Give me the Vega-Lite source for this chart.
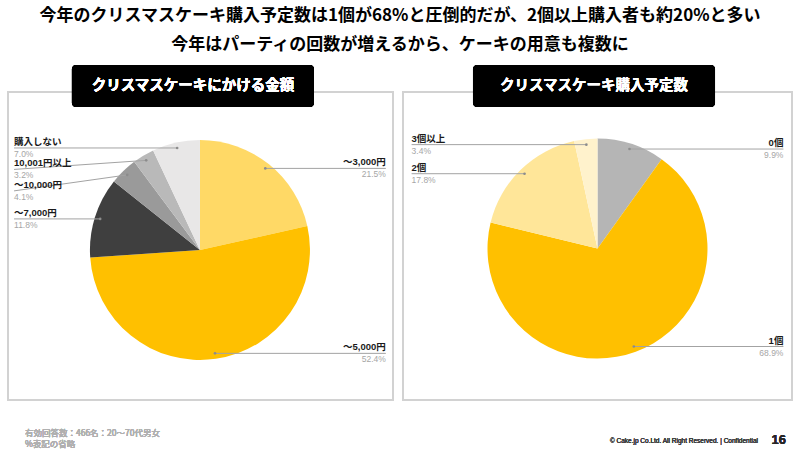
{
  "$schema": "https://vega.github.io/schema/vega-lite/v6.json",
  "background": "white",
  "padding": {"top": 6, "left": 7, "right": 7, "bottom": 4},
  "bounds": "flush",
  "spacing": 10,
  "resolve": {"scale": {"color": "independent"}},
  "title": {
    "text": ["今年のクリスマスケーキ購入予定数は1個が68%と圧倒的だが、2個以上購入者も約20%と多い", "今年はパーティの回数が増えるから、ケーキの用意も複数に"],
    "font": "Noto Sans CJK JP", "fontSize": 17, "fontWeight": "bold", "color": "#000000",
    "lineHeight": 29, "anchor": "middle", "offset": 10
  },
  "config": {
    "view": {"stroke": "#d2d2d2", "strokeWidth": 2},
    "text": {"font": "Liberation Sans, Noto Sans CJK JP"}
  },
  "hconcat": [
    {
      "width": 385, "height": 308,
      "data": {"values": [
        {"cat": "～3,000円", "value": 21.5, "o": 1},
        {"cat": "～5,000円", "value": 52.4, "o": 2},
        {"cat": "～7,000円", "value": 11.8, "o": 3},
        {"cat": "～10,000円", "value": 4.1, "o": 4},
        {"cat": "10,001円以上", "value": 3.2, "o": 5},
        {"cat": "購入しない", "value": 7.0, "o": 6}
      ]},
      "layer": [
        {
          "mark": {"type": "arc", "outerRadius": 110},
          "encoding": {
            "x": {"datum": 0, "type": "quantitative", "axis": null, "scale": {"domain": [-1.745, 1.755], "nice": false, "zero": false}},
            "y": {"datum": 0, "type": "quantitative", "axis": null, "scale": {"domain": [-1.364, 1.436], "nice": false, "zero": false}},
            "theta": {"field": "value", "type": "quantitative", "stack": true},
            "order": {"field": "o", "type": "quantitative"},
            "color": {"field": "cat", "type": "nominal", "legend": null,
              "scale": {"domain": ["～3,000円", "～5,000円", "～7,000円", "～10,000円", "10,001円以上", "購入しない"],
                        "range": ["#FFD966", "#FFC000", "#3F3F3F", "#9A9A9A", "#B9B9B9", "#E8E7E7"]}}
          }
        },
        {
          "transform": [
            {"joinaggregate": [{"op": "sum", "field": "value", "as": "tot"}]},
            {"window": [{"op": "sum", "field": "value", "as": "cum"}], "sort": [{"field": "o"}], "frame": [null, 0]},
            {"calculate": "2*PI*(datum.cum - datum.value/2)/datum.tot", "as": "a"},
            {"calculate": "0.95*sin(datum.a)", "as": "ax"},
            {"calculate": "0.95*cos(datum.a)", "as": "ay"},
            {"calculate": "datum.ax < 0 ? -1 : 1", "as": "side"},
            {"window": [{"op": "row_number", "as": "rk"}], "groupby": ["side"], "sort": [{"field": "ay", "order": "descending"}]},
            {"joinaggregate": [{"op": "max", "field": "ay", "as": "topy"}], "groupby": ["side"]},
            {"calculate": "min(datum.ay, datum.topy - (datum.rk-1)*0.195)", "as": "ly"},
            {"calculate": "datum.side*1.69", "as": "lx"},
            {"calculate": "format(datum.value, '.1f') + '%'", "as": "pl"}
          ],
          "layer": [
            {
              "mark": {"type": "rule", "color": "#a3a3a3", "strokeWidth": 1},
              "encoding": {
                "x": {"field": "lx", "type": "quantitative", "axis": null, "scale": {"domain": [-1.745, 1.755], "nice": false, "zero": false}},
                "y": {"field": "ly", "type": "quantitative", "axis": null, "scale": {"domain": [-1.364, 1.436], "nice": false, "zero": false}},
                "x2": {"field": "ax"},
                "y2": {"field": "ay"}
              }
            },
            {
              "mark": {"type": "circle", "size": 7, "color": "#8c8c8c", "opacity": 1},
              "encoding": {
                "x": {"field": "ax", "type": "quantitative", "axis": null, "scale": {"domain": [-1.745, 1.755], "nice": false, "zero": false}},
                "y": {"field": "ay", "type": "quantitative", "axis": null, "scale": {"domain": [-1.364, 1.436], "nice": false, "zero": false}}
              }
            },
            {
              "mark": {"type": "text", "fontWeight": "bold", "fontSize": 9.5, "color": "#1a1a1a", "baseline": "alphabetic", "dy": -3,
                       "align": {"expr": "datum.side < 0 ? 'left' : 'right'"}},
              "encoding": {
                "x": {"field": "lx", "type": "quantitative", "axis": null, "scale": {"domain": [-1.745, 1.755], "nice": false, "zero": false}},
                "y": {"field": "ly", "type": "quantitative", "axis": null, "scale": {"domain": [-1.364, 1.436], "nice": false, "zero": false}},
                "text": {"field": "cat"}
              }
            },
            {
              "mark": {"type": "text", "fontSize": 8.5, "color": "#a6a6a6", "baseline": "alphabetic", "dy": 9,
                       "align": {"expr": "datum.side < 0 ? 'left' : 'right'"}},
              "encoding": {
                "x": {"field": "lx", "type": "quantitative", "axis": null, "scale": {"domain": [-1.745, 1.755], "nice": false, "zero": false}},
                "y": {"field": "ly", "type": "quantitative", "axis": null, "scale": {"domain": [-1.364, 1.436], "nice": false, "zero": false}},
                "text": {"field": "pl"}
              }
            }
          ]
        },
        {
          "mark": {"type": "rect", "color": "#000000", "cornerRadius": 4},
          "encoding": {
            "x": {"datum": -1.1636, "type": "quantitative", "axis": null, "scale": {"domain": [-1.745, 1.755], "nice": false, "zero": false}},
            "x2": {"datum": 1.0364},
            "y": {"datum": 1.6818, "type": "quantitative", "axis": null, "scale": {"domain": [-1.364, 1.436], "nice": false, "zero": false}},
            "y2": {"datum": 1.3}
          }
        },
        {
          "mark": {"type": "text", "color": "#ffffff", "font": "Noto Sans CJK JP", "fontWeight": "bold", "fontSize": 14.5, "align": "center", "baseline": "middle"},
          "encoding": {
            "x": {"datum": -0.0636, "type": "quantitative", "axis": null, "scale": {"domain": [-1.745, 1.755], "nice": false, "zero": false}},
            "y": {"datum": 1.491, "type": "quantitative", "axis": null, "scale": {"domain": [-1.364, 1.436], "nice": false, "zero": false}},
            "text": {"value": "クリスマスケーキにかける金額"}
          }
        },
        {
          "mark": {"type": "text", "color": "#b0b0b0", "font": "Noto Sans CJK JP", "fontSize": 8.5, "fontWeight": "normal", "align": "left", "baseline": "alphabetic", "lineHeight": 11},
          "encoding": {
            "x": {"datum": -1.591, "type": "quantitative", "axis": null, "scale": {"domain": [-1.745, 1.755], "nice": false, "zero": false}},
            "y": {"datum": -1.69, "type": "quantitative", "axis": null, "scale": {"domain": [-1.364, 1.436], "nice": false, "zero": false}},
            "text": {"value": ["有効回答数：466名：20～70代男女", "%表記の省略"]}
          }
        }
      ]
    },
    {
      "width": 389, "height": 308,
      "data": {"values": [
        {"cat": "0個", "value": 9.9, "o": 1},
        {"cat": "1個", "value": 68.9, "o": 2},
        {"cat": "2個", "value": 17.8, "o": 3},
        {"cat": "3個以上", "value": 3.4, "o": 4}
      ]},
      "layer": [
        {
          "mark": {"type": "arc", "outerRadius": 110},
          "encoding": {
            "x": {"datum": 0, "type": "quantitative", "axis": null, "scale": {"domain": [-1.768, 1.768], "nice": false, "zero": false}},
            "y": {"datum": 0, "type": "quantitative", "axis": null, "scale": {"domain": [-1.377, 1.423], "nice": false, "zero": false}},
            "theta": {"field": "value", "type": "quantitative", "stack": true},
            "order": {"field": "o", "type": "quantitative"},
            "color": {"field": "cat", "type": "nominal", "legend": null,
              "scale": {"domain": ["0個", "1個", "2個", "3個以上"],
                        "range": ["#B5B5B5", "#FFC000", "#FFE699", "#FFF2CC"]}}
          }
        },
        {
          "transform": [
            {"joinaggregate": [{"op": "sum", "field": "value", "as": "tot"}]},
            {"window": [{"op": "sum", "field": "value", "as": "cum"}], "sort": [{"field": "o"}], "frame": [null, 0]},
            {"calculate": "2*PI*(datum.cum - datum.value/2)/datum.tot", "as": "a"},
            {"calculate": "0.95*sin(datum.a)", "as": "ax"},
            {"calculate": "0.95*cos(datum.a)", "as": "ay"},
            {"calculate": "datum.ax < 0 ? -1 : 1", "as": "side"},
            {"window": [{"op": "row_number", "as": "rk"}], "groupby": ["side"], "sort": [{"field": "ay", "order": "descending"}]},
            {"joinaggregate": [{"op": "max", "field": "ay", "as": "topy"}], "groupby": ["side"]},
            {"calculate": "min(datum.ay, datum.topy - (datum.rk-1)*0.195)", "as": "ly"},
            {"calculate": "datum.side*1.69", "as": "lx"},
            {"calculate": "format(datum.value, '.1f') + '%'", "as": "pl"}
          ],
          "layer": [
            {
              "mark": {"type": "rule", "color": "#a3a3a3", "strokeWidth": 1},
              "encoding": {
                "x": {"field": "lx", "type": "quantitative", "axis": null, "scale": {"domain": [-1.768, 1.768], "nice": false, "zero": false}},
                "y": {"field": "ly", "type": "quantitative", "axis": null, "scale": {"domain": [-1.377, 1.423], "nice": false, "zero": false}},
                "x2": {"field": "ax"},
                "y2": {"field": "ay"}
              }
            },
            {
              "mark": {"type": "circle", "size": 7, "color": "#8c8c8c", "opacity": 1},
              "encoding": {
                "x": {"field": "ax", "type": "quantitative", "axis": null, "scale": {"domain": [-1.768, 1.768], "nice": false, "zero": false}},
                "y": {"field": "ay", "type": "quantitative", "axis": null, "scale": {"domain": [-1.377, 1.423], "nice": false, "zero": false}}
              }
            },
            {
              "mark": {"type": "text", "fontWeight": "bold", "fontSize": 9.5, "color": "#1a1a1a", "baseline": "alphabetic", "dy": -3,
                       "align": {"expr": "datum.side < 0 ? 'left' : 'right'"}},
              "encoding": {
                "x": {"field": "lx", "type": "quantitative", "axis": null, "scale": {"domain": [-1.768, 1.768], "nice": false, "zero": false}},
                "y": {"field": "ly", "type": "quantitative", "axis": null, "scale": {"domain": [-1.377, 1.423], "nice": false, "zero": false}},
                "text": {"field": "cat"}
              }
            },
            {
              "mark": {"type": "text", "fontSize": 8.5, "color": "#a6a6a6", "baseline": "alphabetic", "dy": 9,
                       "align": {"expr": "datum.side < 0 ? 'left' : 'right'"}},
              "encoding": {
                "x": {"field": "lx", "type": "quantitative", "axis": null, "scale": {"domain": [-1.768, 1.768], "nice": false, "zero": false}},
                "y": {"field": "ly", "type": "quantitative", "axis": null, "scale": {"domain": [-1.377, 1.423], "nice": false, "zero": false}},
                "text": {"field": "pl"}
              }
            }
          ]
        },
        {
          "mark": {"type": "rect", "color": "#000000", "cornerRadius": 4},
          "encoding": {
            "x": {"datum": -1.1318, "type": "quantitative", "axis": null, "scale": {"domain": [-1.768, 1.768], "nice": false, "zero": false}},
            "x2": {"datum": 1.0682},
            "y": {"datum": 1.668, "type": "quantitative", "axis": null, "scale": {"domain": [-1.377, 1.423], "nice": false, "zero": false}},
            "y2": {"datum": 1.286}
          }
        },
        {
          "mark": {"type": "text", "color": "#ffffff", "font": "Noto Sans CJK JP", "fontWeight": "bold", "fontSize": 14.5, "align": "center", "baseline": "middle"},
          "encoding": {
            "x": {"datum": -0.0318, "type": "quantitative", "axis": null, "scale": {"domain": [-1.768, 1.768], "nice": false, "zero": false}},
            "y": {"datum": 1.477, "type": "quantitative", "axis": null, "scale": {"domain": [-1.377, 1.423], "nice": false, "zero": false}},
            "text": {"value": "クリスマスケーキ購入予定数"}
          }
        },
        {
          "mark": {"type": "text", "color": "#404040", "fontSize": 6.5, "align": "right", "baseline": "alphabetic"},
          "encoding": {
            "x": {"datum": 1.459, "type": "quantitative", "axis": null, "scale": {"domain": [-1.768, 1.768], "nice": false, "zero": false}},
            "y": {"datum": -1.768, "type": "quantitative", "axis": null, "scale": {"domain": [-1.377, 1.423], "nice": false, "zero": false}},
            "text": {"value": "© Cake.jp Co.Ltd. All Right Reserved. | Confidential"}
          }
        },
        {
          "mark": {"type": "text", "color": "#262626", "fontSize": 13, "fontWeight": "bold", "align": "right", "baseline": "alphabetic"},
          "encoding": {
            "x": {"datum": 1.714, "type": "quantitative", "axis": null, "scale": {"domain": [-1.768, 1.768], "nice": false, "zero": false}},
            "y": {"datum": -1.777, "type": "quantitative", "axis": null, "scale": {"domain": [-1.377, 1.423], "nice": false, "zero": false}},
            "text": {"value": "16"}
          }
        }
      ]
    }
  ]
}
